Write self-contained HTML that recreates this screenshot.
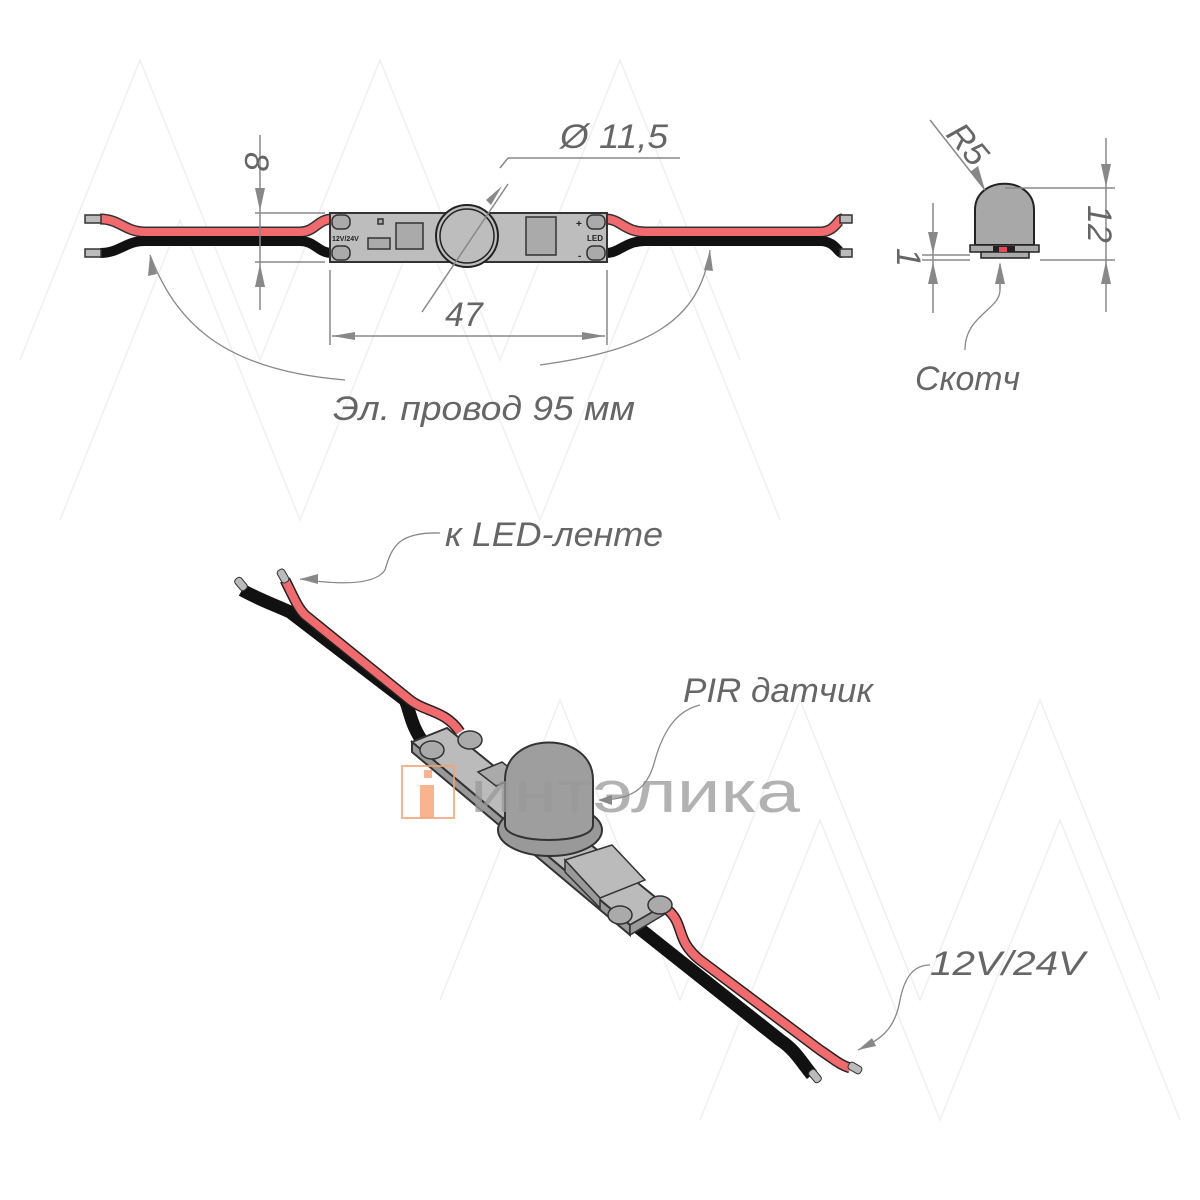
<!DOCTYPE html>
<html><head><meta charset="utf-8"><style>
html,body{margin:0;padding:0;background:#fff;}
svg{display:block}
.lbl{font-family:"Liberation Sans",sans-serif;font-style:italic;fill:#666;font-size:34px;}
.dim{stroke:#888;stroke-width:1.5;fill:none}
.lead{stroke:#888;stroke-width:1.3;fill:none}
</style></head><body>
<svg width="1200" height="1200" viewBox="0 0 1200 1200" xmlns="http://www.w3.org/2000/svg">

<g stroke="#f0f0f0" stroke-width="1.5" fill="none">
<path d="M20,360 L140,60 L260,360 L380,60 L500,360 L620,60 L740,360"/>
<path d="M60,520 L180,220 L300,520 L420,220 L540,520 L660,220 L780,520"/>
<path d="M440,1000 L560,700 L680,1000 L800,700 L920,1000 L1040,700 L1160,1000"/>
<path d="M700,1120 L820,820 L940,1120 L1060,820 L1180,1120"/>
</g>

<g stroke-linecap="butt" fill="none">
<path d="M100,219 C120,219 125,232 145,232 L300,232 C315,232 318,219 332,219" stroke="#333" stroke-width="11"/>
<path d="M100,219 C120,219 125,232 145,232 L300,232 C315,232 318,219 332,219" stroke="#f06a6e" stroke-width="8"/>
<path d="M100,253 C120,253 125,241 145,241 L300,241 C315,241 318,253 332,253" stroke="#111" stroke-width="10"/>
<path d="M606,219 C620,219 625,232 645,232 L820,232 C835,232 838,219 842,219" stroke="#333" stroke-width="11"/>
<path d="M606,219 C620,219 625,232 645,232 L820,232 C835,232 838,219 842,219" stroke="#f06a6e" stroke-width="8"/>
<path d="M606,253 C620,253 625,241 645,241 L820,241 C835,241 838,253 842,253" stroke="#111" stroke-width="10"/>
</g>
<rect x="85" y="215" width="16" height="8" fill="#bbb" stroke="#333" stroke-width="1.5"/>
<rect x="85" y="249" width="16" height="8" fill="#bbb" stroke="#333" stroke-width="1.5"/>
<rect x="840" y="215" width="12" height="8" fill="#bbb" stroke="#333" stroke-width="1.5"/>
<rect x="840" y="249" width="12" height="8" fill="#bbb" stroke="#333" stroke-width="1.5"/>
<rect x="330" y="213" width="277" height="49" fill="#bdbdbd" stroke="#333" stroke-width="2"/>
<g fill="#aaa" stroke="#333" stroke-width="1.5">
<rect x="332" y="215" width="18" height="14" rx="6"/><rect x="332" y="246" width="18" height="14" rx="6"/>
<rect x="587" y="215" width="18" height="14" rx="6"/><rect x="587" y="246" width="18" height="14" rx="6"/>
<rect x="396" y="223" width="27" height="26"/><rect x="368" y="238" width="22" height="11"/><rect x="378" y="219" width="5" height="5"/>
<rect x="526" y="217" width="30" height="38"/>
</g>
<text x="332" y="241" font-family="Liberation Sans" font-size="7" font-weight="bold" fill="#222">12V/24V</text>
<text x="587" y="241" font-family="Liberation Sans" font-size="8" font-weight="bold" fill="#222">LED</text>
<text x="576" y="227" font-family="Liberation Sans" font-size="10" font-weight="bold" fill="#222">+</text>
<text x="578" y="259" font-family="Liberation Sans" font-size="10" font-weight="bold" fill="#222">-</text>
<circle cx="467" cy="236" r="31" fill="#bdbdbd" stroke="#222" stroke-width="2"/>
<circle cx="467" cy="236" r="27" fill="#bdbdbd" stroke="#222" stroke-width="1.5"/>
<line class="dim" x1="260" y1="135" x2="260" y2="310"/>
<line class="dim" x1="255" y1="213" x2="325" y2="213"/>
<line class="dim" x1="255" y1="262" x2="325" y2="262"/>
<path d="M255,188 L265,188 L260,211 z M255,287 L265,287 L260,264 z" fill="#888"/>
<text class="lbl" transform="translate(245,152) rotate(90)" font-size="30">8</text>
<line class="dim" x1="330" y1="270" x2="330" y2="345"/>
<line class="dim" x1="607" y1="270" x2="607" y2="345"/>
<line class="dim" x1="332" y1="336" x2="605" y2="336"/>
<path d="M332,336 L355,332 L355,340 z M605,336 L582,332 L582,340 z" fill="#888"/>
<text class="lbl" x="445" y="326">47</text>
<line class="dim" x1="422" y1="312" x2="508" y2="184"/>
<line class="dim" x1="508" y1="158" x2="680" y2="158"/><path class="dim" d="M508,158 L500,168"/>
<path d="M502,186 L491,205 L486,200 z" fill="#888"/>
<text class="lbl" x="560" y="148" textLength="108" lengthAdjust="spacingAndGlyphs">Ø 11,5</text>
<path class="lead" d="M150,255 C175,320 220,370 345,380"/>
<path d="M150,255 L148,276 L157,274 z" fill="#888"/>
<path class="lead" d="M710,250 C700,320 650,350 540,365"/>
<path d="M710,250 L704,270 L713,271 z" fill="#888"/>
<text class="lbl" x="333" y="420" textLength="302" lengthAdjust="spacingAndGlyphs">Эл. провод 95 мм</text>

<path d="M975,245 L975,210 C975,175 1034,175 1034,210 L1034,245 z" fill="#a8a8a8" stroke="#222" stroke-width="2"/>
<rect x="970" y="245" width="69" height="7" fill="#aaa" stroke="#222" stroke-width="1.5"/>
<rect x="981" y="252" width="48" height="6" fill="#aaa" stroke="#222" stroke-width="1.5"/>
<rect x="993" y="246" width="22" height="6" fill="#222"/><rect x="999" y="247" width="8" height="5" fill="#e54b55"/>
<line class="dim" x1="930" y1="120" x2="985" y2="190"/>
<path d="M985,190 L970,172 L978,166 z" fill="#888"/>
<text class="lbl" transform="translate(945,135) rotate(50)" font-size="30">R5</text>
<line class="dim" x1="1005" y1="188" x2="1115" y2="188"/>
<line class="dim" x1="1040" y1="260" x2="1115" y2="260"/>
<line class="dim" x1="1106" y1="138" x2="1106" y2="312"/>
<path d="M1101,164 L1111,164 L1106,187 z M1101,284 L1111,284 L1106,261 z" fill="#888"/>
<text class="lbl" transform="translate(1088,205) rotate(90)" font-size="30">12</text>
<line class="dim" x1="922" y1="255" x2="970" y2="255"/>
<line class="dim" x1="922" y1="260" x2="970" y2="260"/>
<line class="dim" x1="933" y1="203" x2="933" y2="313"/>
<path d="M928,232 L938,232 L933,254 z M928,284 L938,284 L933,262 z" fill="#888"/>
<text class="lbl" transform="translate(897,248) rotate(90)" font-size="24">1</text>
<line class="dim" x1="1000" y1="264" x2="1000" y2="290"/>
<path d="M995,284 L1005,284 L1000,262 z" fill="#888"/>
<path class="lead" d="M1000,290 C1000,310 965,315 965,350"/>
<text class="lbl" x="915" y="390" textLength="105" lengthAdjust="spacingAndGlyphs">Скотч</text>

<g fill="none" stroke-linejoin="round">
<path d="M242,590 C260,600 275,605 290,612 L405,700 C410,710 410,725 425,745" stroke="#111" stroke-width="13"/>
<path d="M285,580 C295,600 298,608 305,615 L410,700 C425,712 445,710 460,732" stroke="#222" stroke-width="11"/>
<path d="M285,580 C295,600 298,608 305,615 L410,700 C425,712 445,710 460,732" stroke="#f06a6e" stroke-width="8"/>
<path d="M635,925 L780,1040 C795,1050 800,1060 812,1075" stroke="#111" stroke-width="13"/>
<path d="M668,910 C685,925 675,940 700,960 L820,1050 C835,1060 840,1065 850,1068" stroke="#222" stroke-width="11"/>
<path d="M668,910 C685,925 675,940 700,960 L820,1050 C835,1060 840,1065 850,1068" stroke="#f06a6e" stroke-width="8"/>
</g>
<rect x="234" y="580" width="14" height="8" rx="3" fill="#bbb" stroke="#333" transform="rotate(50 241 584)"/>
<rect x="276" y="572" width="14" height="8" rx="3" fill="#bbb" stroke="#333" transform="rotate(60 283 576)"/>
<rect x="808" y="1072" width="14" height="8" rx="3" fill="#bbb" stroke="#333" transform="rotate(50 815 1076)"/>
<rect x="848" y="1064" width="14" height="8" rx="3" fill="#bbb" stroke="#333" transform="rotate(30 855 1068)"/>
<polygon points="412,742 447,728 665,905 630,925" fill="#bbb" stroke="#333" stroke-width="2"/>
<polygon points="412,742 630,925 630,935 412,752" fill="#999" stroke="#333" stroke-width="2"/>
<polygon points="630,925 665,905 665,914 630,935" fill="#999" stroke="#333" stroke-width="1.5"/>
<g fill="#aaa" stroke="#333" stroke-width="1.5">
<ellipse cx="432" cy="750" rx="12" ry="9"/><ellipse cx="470" cy="740" rx="12" ry="9"/>
<ellipse cx="620" cy="915" rx="12" ry="9"/><ellipse cx="660" cy="905" rx="12" ry="9"/>
<polygon points="478,772 502,762 520,776 496,786"/>
<polygon points="565,860 612,845 645,880 600,898" fill="#bbb"/>
<polygon points="565,860 600,898 600,908 565,872" fill="#999"/>
</g>
<ellipse cx="550" cy="830" rx="52" ry="26" fill="#999" stroke="#333" stroke-width="2"/>
<path d="M505,825 L505,780 C505,730 593,730 593,780 L593,825 C593,845 505,845 505,825 z" fill="#9e9e9e" stroke="#333" stroke-width="2"/>
<rect x="402" y="766" width="52" height="52" fill="none" stroke="#f4a070" stroke-width="2" opacity="0.8"/>
<rect x="420" y="785" width="14" height="33" fill="#f7a77a" opacity="0.85"/>
<rect x="424" y="770" width="8" height="8" fill="#f7a77a" opacity="0.85"/>
<text x="470" y="812" font-family="Liberation Sans" font-size="58" fill="#999" opacity="0.75" textLength="330" lengthAdjust="spacingAndGlyphs">интэлика</text>
<path class="lead" d="M300,579 C340,585 375,585 385,570 C392,545 400,532 440,533"/>
<path d="M300,579 L318,574 L318,584 z" fill="#888"/>
<text class="lbl" x="445" y="546" textLength="218" lengthAdjust="spacingAndGlyphs">к LED-ленте</text>
<path class="lead" d="M600,800 C640,800 650,780 655,760 C665,725 680,710 700,705"/>
<path d="M598,800 L612,795 L612,805 z" fill="#888"/>
<text class="lbl" x="683" y="702" textLength="190" lengthAdjust="spacingAndGlyphs">PIR датчик</text>
<path class="lead" d="M858,1050 C880,1040 895,1030 900,1000 C905,975 915,965 930,965"/>
<path d="M858,1050 L872,1038 L876,1046 z" fill="#888"/>
<text class="lbl" x="930" y="975" textLength="155" lengthAdjust="spacingAndGlyphs">12V/24V</text>
</svg>
</body></html>
